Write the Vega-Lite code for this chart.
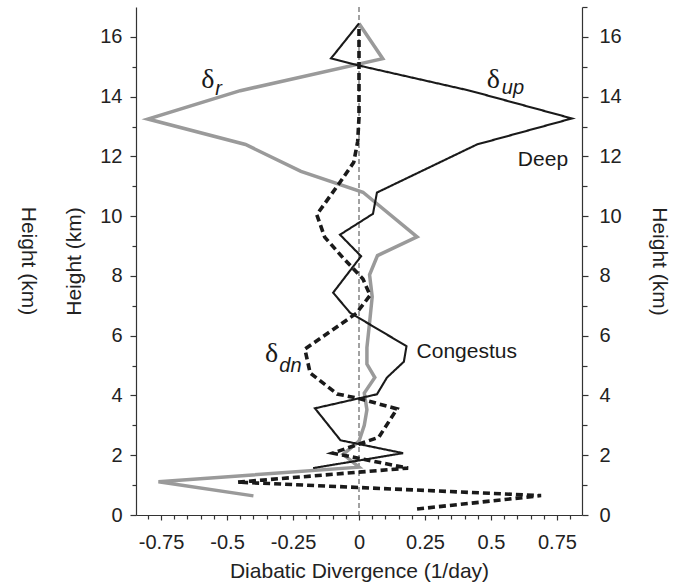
{
  "$schema": "https://vega.github.io/schema/vega-lite/v6.json",
  "autosize": "none",
  "width": 446,
  "height": 508,
  "padding": {"left": 136, "top": 7, "right": 101, "bottom": 69},
  "background": "white",
  "title": {
    "text": "Height (km)",
    "orient": "left",
    "angle": 90,
    "anchor": "middle",
    "font": "Liberation Sans",
    "fontSize": 21,
    "fontWeight": "normal",
    "color": "#222222",
    "offset": 4
  },
  "config": {
    "view": {"stroke": null},
    "font": "Liberation Sans",
    "axis": {
      "domainColor": "#333333",
      "domainWidth": 1.2,
      "tickColor": "#333333",
      "tickWidth": 1.2,
      "labelFont": "Liberation Sans",
      "labelFontSize": 20,
      "labelColor": "#222222",
      "titleFont": "Liberation Sans",
      "titleFontSize": 21,
      "titleFontWeight": "normal",
      "titleColor": "#222222",
      "grid": false,
      "labelFlush": false,
      "labelOverlap": false
    }
  },
  "datasets": {
    "profiles": [
      {"series": "r", "x": -0.40, "h": 0.64},
      {"series": "r", "x": -0.76, "h": 1.11},
      {"series": "r", "x": 0.0, "h": 1.6},
      {"series": "r", "x": -0.06, "h": 2.03},
      {"series": "r", "x": 0.0, "h": 2.47},
      {"series": "r", "x": 0.02, "h": 3.0},
      {"series": "r", "x": 0.03, "h": 3.52},
      {"series": "r", "x": 0.02, "h": 4.08},
      {"series": "r", "x": 0.06, "h": 4.6},
      {"series": "r", "x": 0.03, "h": 5.05},
      {"series": "r", "x": 0.03, "h": 5.6},
      {"series": "r", "x": 0.04, "h": 6.43},
      {"series": "r", "x": 0.05, "h": 7.3},
      {"series": "r", "x": 0.04, "h": 8.04},
      {"series": "r", "x": 0.07, "h": 8.68},
      {"series": "r", "x": 0.22, "h": 9.31},
      {"series": "r", "x": 0.015, "h": 10.8},
      {"series": "r", "x": -0.22, "h": 11.5},
      {"series": "r", "x": -0.43, "h": 12.4},
      {"series": "r", "x": -0.80, "h": 13.25},
      {"series": "r", "x": -0.45, "h": 14.2},
      {"series": "r", "x": 0.09, "h": 15.27},
      {"series": "r", "x": 0.0, "h": 16.45},

      {"series": "up", "x": -0.174, "h": 1.57},
      {"series": "up", "x": 0.167, "h": 2.07},
      {"series": "up", "x": -0.07, "h": 2.5},
      {"series": "up", "x": -0.167, "h": 3.57},
      {"series": "up", "x": 0.068, "h": 4.04},
      {"series": "up", "x": 0.106, "h": 4.6},
      {"series": "up", "x": 0.17, "h": 5.13},
      {"series": "up", "x": 0.18, "h": 5.65},
      {"series": "up", "x": -0.034, "h": 6.77},
      {"series": "up", "x": -0.098, "h": 7.44},
      {"series": "up", "x": 0.008, "h": 8.66},
      {"series": "up", "x": -0.072, "h": 9.38},
      {"series": "up", "x": 0.053, "h": 10.08},
      {"series": "up", "x": 0.068, "h": 10.79},
      {"series": "up", "x": 0.447, "h": 12.4},
      {"series": "up", "x": 0.807, "h": 13.27},
      {"series": "up", "x": 0.42, "h": 14.2},
      {"series": "up", "x": 0.0, "h": 15.04},
      {"series": "up", "x": -0.106, "h": 15.28},
      {"series": "up", "x": 0.0, "h": 16.45},

      {"series": "dn", "x": 0.22, "h": 0.2},
      {"series": "dn", "x": 0.69, "h": 0.65},
      {"series": "dn", "x": -0.46, "h": 1.1},
      {"series": "dn", "x": 0.186, "h": 1.57},
      {"series": "dn", "x": -0.10, "h": 2.07},
      {"series": "dn", "x": 0.075, "h": 2.6},
      {"series": "dn", "x": 0.144, "h": 3.55},
      {"series": "dn", "x": 0.0, "h": 3.9},
      {"series": "dn", "x": -0.083, "h": 4.05},
      {"series": "dn", "x": -0.185, "h": 4.75},
      {"series": "dn", "x": -0.205, "h": 5.55},
      {"series": "dn", "x": -0.01, "h": 6.75},
      {"series": "dn", "x": 0.042, "h": 7.35},
      {"series": "dn", "x": 0.015, "h": 7.9},
      {"series": "dn", "x": -0.06, "h": 8.6},
      {"series": "dn", "x": -0.13, "h": 9.3},
      {"series": "dn", "x": -0.16, "h": 10.05},
      {"series": "dn", "x": -0.07, "h": 11.16},
      {"series": "dn", "x": -0.02, "h": 11.8},
      {"series": "dn", "x": -0.005, "h": 12.5},
      {"series": "dn", "x": 0.0, "h": 13.3},
      {"series": "dn", "x": 0.0, "h": 14.2},
      {"series": "dn", "x": 0.0, "h": 15.1},
      {"series": "dn", "x": 0.0, "h": 16.3}
    ],
    "zero": [{"x": 0}],
    "deltas": [
      {"x": -0.598, "h": 14.3, "t": "δ"},
      {"x": 0.484, "h": 14.3, "t": "δ"},
      {"x": -0.356, "h": 5.13, "t": "δ"}
    ],
    "subscripts": [
      {"x": -0.545, "h": 14.07, "t": "r"},
      {"x": 0.541, "h": 14.1, "t": "up"},
      {"x": -0.302, "h": 4.79, "t": "dn"}
    ],
    "regimes": [
      {"x": 0.602, "h": 11.69, "t": "Deep"},
      {"x": 0.218, "h": 5.26, "t": "Congestus"}
    ]
  },
  "encoding": {
    "x": {
      "field": "x", "type": "quantitative",
      "scale": {"domain": [-0.845, 0.845], "nice": false, "zero": false},
      "axis": {
        "title": "Diabatic Divergence (1/day)",
        "values": [-0.8, -0.75, -0.7, -0.65, -0.6, -0.55, -0.5, -0.45, -0.4, -0.35, -0.3, -0.25, -0.2, -0.15, -0.1, -0.05, 0, 0.05, 0.1, 0.15, 0.2, 0.25, 0.3, 0.35, 0.4, 0.45, 0.5, 0.55, 0.6, 0.65, 0.7, 0.75, 0.8],
        "labelExpr": "abs(datum.value * 4 - round(datum.value * 4)) < 0.000001 ? '' + datum.value : ''",
        "labelOverlap": false,
        "labelBound": false,
        "tickSize": {"condition": {"test": "abs(datum.value * 4 - round(datum.value * 4)) < 0.000001", "value": 5}, "value": 4},
        "labelPadding": 12,
        "titlePadding": 8
      }
    }
  },
  "layer": [
    {
      "data": {"name": "zero"},
      "mark": {"type": "rule", "color": "#444444", "strokeWidth": 1, "strokeDash": [5, 3]},
      "encoding": {}
    },
    {
      "data": {"name": "profiles"},
      "transform": [{"filter": "datum.series == 'r'"}],
      "mark": {"type": "line", "color": "#9a9a9a", "strokeWidth": 3.5, "strokeJoin": "miter"},
      "encoding": {
        "y": {
          "field": "h", "type": "quantitative",
          "scale": {"domain": [0, 17], "nice": false, "zero": false},
          "axis": {
            "orient": "left",
            "title": "Height (km)",
            "values": [0, 1, 2, 3, 4, 5, 6, 7, 8, 9, 10, 11, 12, 13, 14, 15, 16],
            "labelExpr": "datum.value % 2 == 0 ? '' + datum.value : ''",
            "labelOverlap": false,
            "tickSize": {"condition": {"test": "datum.value % 2 == 0", "value": 6}, "value": 4},
            "labelPadding": 8,
            "titlePadding": 15
          }
        },
        "order": {"field": "h", "type": "quantitative"}
      }
    },
    {
      "data": {"name": "profiles"},
      "transform": [{"filter": "datum.series != 'r'"}],
      "mark": {"type": "line", "color": "#1a1a1a", "strokeJoin": "miter"},
      "encoding": {
        "y": {
          "field": "h", "type": "quantitative",
          "axis": {
            "orient": "right",
            "title": "Height (km)",
            "values": [0, 1, 2, 3, 4, 5, 6, 7, 8, 9, 10, 11, 12, 13, 14, 15, 16, 17],
            "labelExpr": "datum.value % 2 == 0 && datum.value < 17 ? '' + datum.value : ''",
            "labelOverlap": false,
            "tickSize": {"condition": {"test": "datum.value % 2 == 0", "value": 6}, "value": 5},
            "labelPadding": 11,
            "titlePadding": 27
          }
        },
        "detail": {"field": "series"},
        "strokeDash": {"field": "series", "type": "nominal", "scale": {"domain": ["up", "dn"], "range": [[1, 0], [7, 4]]}, "legend": null},
        "strokeWidth": {"field": "series", "type": "nominal", "scale": {"domain": ["up", "dn"], "range": [2.1, 3.6]}, "legend": null},
        "order": {"field": "h", "type": "quantitative"}
      }
    },
    {
      "data": {"name": "deltas"},
      "mark": {"type": "text", "font": "Liberation Serif", "fontSize": 28, "align": "left", "baseline": "alphabetic", "color": "#1a1a1a"},
      "encoding": {
        "y": {"field": "h", "type": "quantitative", "axis": null},
        "text": {"field": "t"}
      }
    },
    {
      "data": {"name": "subscripts"},
      "mark": {"type": "text", "font": "Liberation Sans", "fontSize": 20, "fontStyle": "italic", "align": "left", "baseline": "alphabetic", "color": "#1a1a1a"},
      "encoding": {
        "y": {"field": "h", "type": "quantitative", "axis": null},
        "text": {"field": "t"}
      }
    },
    {
      "data": {"name": "regimes"},
      "mark": {"type": "text", "font": "Liberation Sans", "fontSize": 21, "align": "left", "baseline": "alphabetic", "color": "#1a1a1a"},
      "encoding": {
        "y": {"field": "h", "type": "quantitative", "axis": null},
        "text": {"field": "t"}
      }
    }
  ],
  "resolve": {"scale": {"y": "shared"}, "axis": {"y": "independent"}}
}
